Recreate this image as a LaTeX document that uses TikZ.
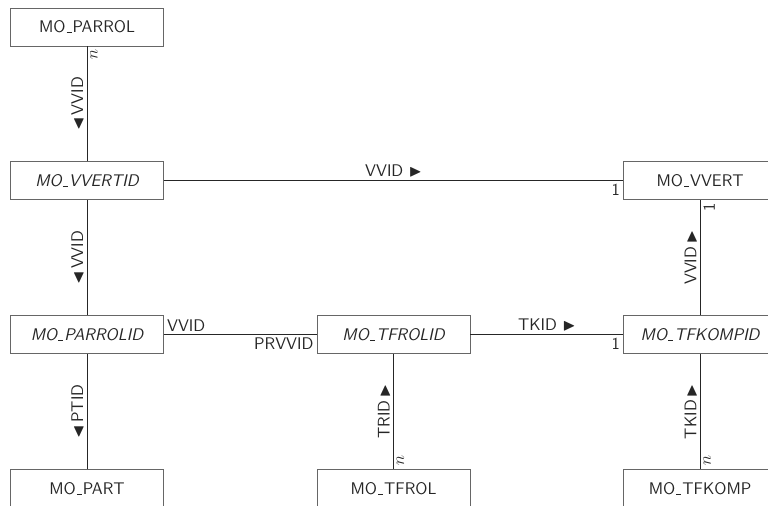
\documentclass[tikz,border=0pt]{standalone}
\usepackage{tikz}
\usetikzlibrary{positioning}
\usepackage{amsmath}
\usepackage{amssymb}

\newcommand{\idbar}{\leavevmode\kern.06em\vbox{\hrule width.3em}\kern.06em}

\begin{document}
\begin{tikzpicture}[node distance=80.5pt and 107pt, font=\sffamily\fontsize{11.8}{13}\selectfont]
        \tikzstyle{tab} = [rectangle, draw=black!60, line width=0.6pt, minimum width=107pt, minimum height=26.6pt, inner sep=0pt, text=black!85]
        \tikzstyle{view} = [tab, font=\sffamily\itshape\fontsize{11.8}{13}\selectfont]
        \tikzstyle{link} = [draw=black!85, line width=0.6pt]
        \tikzstyle{lab} = [inner sep=2pt, text=black!85]

        \useasboundingbox (-60.9pt,18.9pt) rectangle (476.7pt,-334.6pt);

        \node [tab] (parrol) {MO\idbar PARROL};
        \node [view, below=of parrol] (vvertid) {MO\idbar VVERTID};
        \node [view, below=of vvertid] (parrolid) {MO\idbar PARROLID};
        \node [tab, below=of parrolid] (part) {MO\idbar PART};
        \node [view, right=of parrolid] (tfrolid) {MO\idbar TFROLID};
        \node [tab, below=of tfrolid] (tfrol) {MO\idbar TFROL};
        \node [view, right=of tfrolid] (tfkompid) {MO\idbar TFKOMPID};
        \node [tab, below=of tfkompid] (tfkomp) {MO\idbar TFKOMP};
        \node [tab, above=of tfkompid] (vvert) {MO\idbar VVERT};

        \draw [link] (vvertid) -- node [lab, sloped, above] {$\blacktriangleleft$\,VVID} node [lab, sloped, below left, pos=1] {$n$} (parrol);
        \draw [link] (parrolid) -- node [lab, sloped, above] {$\blacktriangleleft$\,VVID} (vvertid);
        \draw [link] (part) -- node [lab, sloped, above] {$\blacktriangleleft$\,PTID} (parrolid);
        \draw [link] (vvertid) -- node [lab, above] {VVID $\blacktriangleright$} node [lab, below left, pos=1] {1} (vvert);
        \draw [link] (parrolid) -- node [lab, above right, pos=0] {VVID} node [lab, below left, pos=1] {PRVVID} (tfrolid);
        \draw [link] (tfrolid) -- node [lab, above] {TKID $\blacktriangleright$} node [lab, below left, pos=1] {1} (tfkompid);
        \draw [link] (tfrol) -- node [lab, sloped, above] {TRID\,$\blacktriangleright$} node [lab, sloped, below right, pos=0] {$n$} (tfrolid);
        \draw [link] (tfkomp) -- node [lab, sloped, above] {TKID\,$\blacktriangleright$} node [lab, sloped, below right, pos=0] {$n$} (tfkompid);
        \draw [link] (tfkompid) -- node [lab, sloped, above] {VVID\,$\blacktriangleright$} node [lab, sloped, below left, pos=1] {1} (vvert);
\end{tikzpicture}
\end{document}
